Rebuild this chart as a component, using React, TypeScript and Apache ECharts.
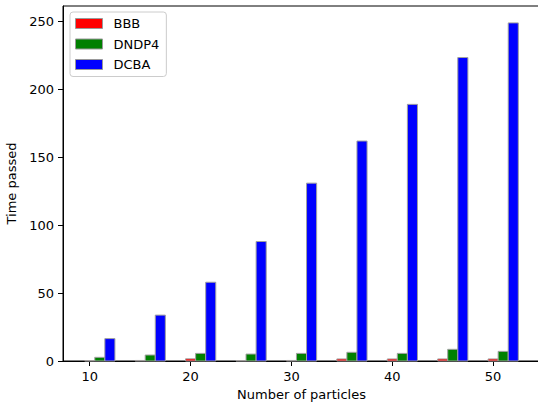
import React, { useEffect, useRef } from "react";
import * as echarts from "echarts";

const particles = [10, 15, 20, 25, 30, 35, 40, 45, 50];
const bbb = [0.3, 0.4, 1.6, 0.3, 0.4, 1.5, 1.5, 1.5, 1.5];
const dndp4 = [2.7, 4.4, 5.6, 5.1, 5.6, 6.4, 5.6, 8.6, 7.1];
const dcba = [16.5, 33.8, 58, 88, 131, 162, 189, 223.5, 249];
const xTicks = [10, 20, 30, 40, 50];
const yTicks = [0, 50, 100, 150, 200, 250];

const seriesDefs = [
  { name: "BBB", color: "#ff0000", offset: 0, values: bbb },
  { name: "DNDP4", color: "#008000", offset: 1, values: dndp4 },
  { name: "DCBA", color: "#0000ff", offset: 2, values: dcba },
];

const FONT = "DejaVu Sans";

export default function App() {
  const ref = useRef<HTMLDivElement>(null);
  useEffect(() => {
    if (!ref.current) return;
    const chart = echarts.init(ref.current, null, { renderer: "svg" });
    const series = seriesDefs.map((s) => ({
      name: s.name,
      type: "custom",
      itemStyle: { color: s.color, borderColor: "#999", borderWidth: 1 },
      data: particles.map((p, i) => [p + s.offset, s.values[i]]),
      renderItem: (params: any, api: any) => {
        const x = api.value(0);
        const y = api.value(1);
        const p1 = api.coord([x - 0.5, y]);
        const p2 = api.coord([x + 0.5, 0]);
        return {
          type: "rect",
          shape: { x: p1[0], y: p1[1], width: p2[0] - p1[0], height: p2[1] - p1[1] },
          style: { fill: s.color, stroke: "#a0a0a0", lineWidth: 1 },
        };
      },
    }));
    chart.setOption({
      animation: false,
      backgroundColor: "#ffffff",
      textStyle: { fontFamily: FONT },
      grid: {
        left: 63,
        right: -2,
        top: 6,
        bottom: 41,
        show: true,
        borderColor: "#000",
        borderWidth: 1,
        outerBoundsMode: "none",
        containLabel: false,
      },
      legend: {
        orient: "vertical",
        left: 70,
        top: 12,
        icon: "rect",
        itemWidth: 27,
        itemHeight: 10,
        itemGap: 6.5,
        padding: [4.5, 7, 5, 5],
        backgroundColor: "rgba(255,255,255,0.8)",
        borderColor: "#cccccc",
        borderWidth: 1,
        borderRadius: 3,
        itemStyle: { borderColor: "#999", borderWidth: 1 },
        textStyle: { fontFamily: FONT, fontSize: 13, color: "#000", lineHeight: 14, padding: [0, 0, 0, 6] },
        data: seriesDefs.map((s) => s.name),
      },
      xAxis: {
        type: "value",
        min: 7.35,
        max: 54.65,
        name: "Number of particles",
        nameLocation: "middle",
        nameGap: 27,
        nameTextStyle: { fontFamily: FONT, fontSize: 13, color: "#000" },
        axisLine: { show: true, lineStyle: { color: "#000", width: 1 } },
        axisTick: { show: true, length: 5, lineStyle: { color: "#000" }, customValues: xTicks },
        axisLabel: { fontFamily: FONT, fontSize: 13, color: "#000", margin: 9, customValues: xTicks },
        splitLine: { show: false },
      },
      yAxis: {
        type: "value",
        min: 0,
        max: 261.45,
        name: "Time passed",
        nameLocation: "middle",
        nameGap: 40,
        nameTextStyle: { fontFamily: FONT, fontSize: 13, color: "#000" },
        axisLine: { show: true, lineStyle: { color: "#000", width: 1 } },
        axisTick: { show: true, length: 5, lineStyle: { color: "#000" }, customValues: yTicks },
        axisLabel: { fontFamily: FONT, fontSize: 13, color: "#000", margin: 9, customValues: yTicks },
        splitLine: { show: false },
      },
      series,
    });
    return () => chart.dispose();
  }, []);
  return (
    <div
      ref={ref}
      style={{ position: "fixed", left: 0, top: 0, width: 538, height: 402 }}
    />
  );
}
